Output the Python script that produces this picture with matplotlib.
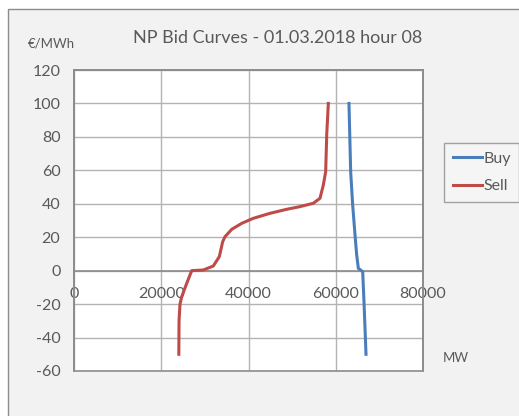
import matplotlib
matplotlib.use("Agg")
import matplotlib.pyplot as plt
from matplotlib.patches import Rectangle

plt.rcParams["font.family"] = ["Lato", "DejaVu Sans"]
plt.rcParams["axes.unicode_minus"] = False

TITLE = "NP Bid Curves - 01.03.2018 hour 08"
BUY_COLOR = "#4a7ebb"
SELL_COLOR = "#be4b48"
TEXT_COLOR = "#595959"

sell_mw = [24000, 24050, 24270, 24660, 25810, 26960, 29620, 31920, 33300,
           34070, 34600, 36140, 38440, 41100, 44940, 48770, 51830, 54880,
           56420, 57180, 57720, 57960, 58330]
sell_price = [-50, -30, -20, -15.6, -7.6, 0, 0.4, 2.8, 8.4,
              17.3, 20.3, 24.7, 28.3, 31.3, 34.3, 36.7, 38.3, 40.3,
              43.3, 51.2, 59.2, 81.1, 100]

buy_mw = [63070, 63460, 63920, 64460, 64840, 65220, 66220, 66520, 66980]
buy_price = [100, 59.2, 39.3, 21.3, 9.4, 1.4, -0.6, -18.6, -50]

x_ticks = [0, 20000, 40000, 60000, 80000]
y_ticks = [-60, -40, -20, 0, 20, 40, 60, 80, 100, 120]

fig = plt.figure(figsize=(5.19, 4.16), dpi=100, facecolor="white")
# chart area frame (cropped at right and bottom like the screenshot)
fig.patches.append(Rectangle((8 / 519, -0.1), 1.2, 1 - 9 / 416 + 0.1,
                             transform=fig.transFigure, facecolor="#f2f2f2",
                             edgecolor="#8c8c8c", linewidth=1.0, zorder=-5))

ax = fig.add_axes([74.3 / 519, 1 - 371 / 416, 348.4 / 519, 301 / 416])
ax.set_zorder(1)
ax.set_facecolor("white")
ax.plot(buy_mw, buy_price, color=BUY_COLOR, linewidth=2.2, label="Buy", zorder=3)
ax.plot(sell_mw, sell_price, color=SELL_COLOR, linewidth=2.2, label="Sell", zorder=3)

ax.set_xlim(x_ticks[0], x_ticks[-1])
ax.set_ylim(y_ticks[0], y_ticks[-1])
ax.set_yticks(y_ticks)
ax.set_xticks(x_ticks)
ax.grid(True, color="#b3b3b3", linewidth=1.0)
ax.set_axisbelow(True)

for s in ["top", "left", "right"]:
    ax.spines[s].set_color("#8c8c8c")
    ax.spines[s].set_linewidth(1.2)
# horizontal axis crosses at zero
ax.spines["bottom"].set_position(("data", 0))
ax.spines["bottom"].set_color("#8c8c8c")
ax.spines["bottom"].set_linewidth(1.2)
ax.add_patch(Rectangle((0, 0), 1, 1, transform=ax.transAxes, fill=False,
                       edgecolor="#8c8c8c", linewidth=1.2, zorder=4, clip_on=False))

ax.tick_params(axis="both", length=0, labelsize=11.5, labelcolor=TEXT_COLOR)
ax.tick_params(axis="x", pad=12)
ax.tick_params(axis="y", pad=10)

fig.text(278 / 519, 1 - 38 / 416, TITLE, ha="center", va="center",
         fontsize=13, color=TEXT_COLOR)
fig.text(28 / 519, 1 - 43 / 416, "€/MWh", ha="left", va="center",
         fontsize=9.5, color=TEXT_COLOR)
fig.text(443 / 519, 1 - 358 / 416, "MW", ha="left", va="center",
         fontsize=9.5, color=TEXT_COLOR)

leg = ax.legend(loc="center left", bbox_to_anchor=(444 / 519, 1 - 172.5 / 416),
                bbox_transform=fig.transFigure, frameon=True, fancybox=False,
                fontsize=11.5, handlelength=1.8, handletextpad=0.1,
                borderpad=0.55, labelspacing=0.85, borderaxespad=0)
leg.get_frame().set_edgecolor("#8c8c8c")
leg.get_frame().set_facecolor("#f7f7f7")
for t in leg.get_texts():
    t.set_color(TEXT_COLOR)

fig.savefig("out.png", dpi=100, facecolor=fig.get_facecolor())
